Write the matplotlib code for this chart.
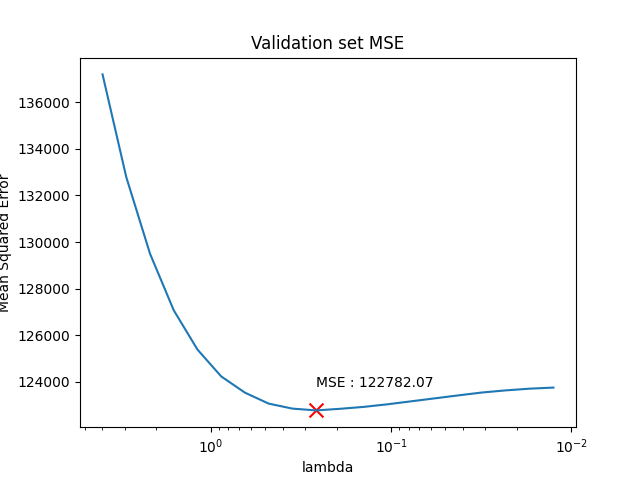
import matplotlib
matplotlib.use("Agg")
import matplotlib.pyplot as plt
import numpy as np

# lambda values (log spaced)
lambdas = np.logspace(0.6, -1.9, 20)
mse = [137185, 132782, 129500, 127073, 125389, 124239, 123543, 123073, 122859,
       122782.07, 122850, 122932, 123043, 123171, 123299, 123427, 123550,
       123641, 123714, 123760]

best = int(np.argmin(mse))

fig, ax = plt.subplots()
ax.plot(lambdas, mse)
ax.set_xscale('log')
ax.invert_xaxis()
ax.scatter(lambdas[best], mse[best], marker='x', color='red', s=100)
ax.text(lambdas[best], mse[best] + 1000, 'MSE : %.2f' % mse[best])
ax.set_xlabel('lambda')
ax.set_ylabel('Mean Squared Error')
ax.set_title('Validation set MSE')
fig.savefig('out.png')
